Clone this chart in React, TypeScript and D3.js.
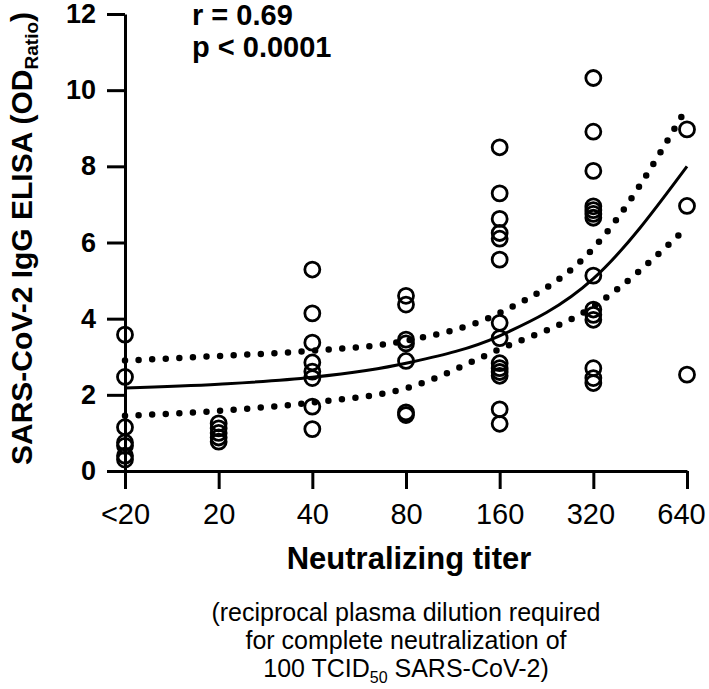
import React, { useEffect, useRef } from "react";
import * as d3 from "d3";

// titer groups on the x axis
const titers = ["<20", "20", "40", "80", "160", "320", "640"];

// ELISA OD ratio for each sample, per titer group
const odLt20 = [3.58, 2.47, 1.15, 0.75, 0.66, 0.4, 0.3];
const od20 = [1.25, 1.12, 1.0, 0.88, 0.77];
const od40 = [5.29, 4.14, 3.37, 2.85, 2.61, 2.44, 1.69, 1.1];
const od80 = [4.6, 4.37, 3.45, 3.35, 2.89, 1.54, 1.47];
const od160 = [8.5, 7.29, 6.62, 6.25, 6.1, 5.55, 3.89, 3.49, 2.83, 2.7, 2.6, 2.5, 1.62, 1.24];
const od320 = [10.32, 8.91, 7.88, 6.95, 6.85, 6.75, 6.65, 5.13, 4.24, 4.1, 3.97, 2.7, 2.44, 2.31];
const od640 = [8.97, 6.96, 2.53];

// regression line and 95% band, read at each titer
const fitLine = [2.18, 2.28, 2.46, 2.83, 3.55, 5.05, 8.0];
const bandUpper = [2.9, 3.02, 3.16, 3.42, 4.15, 5.85, 9.55];
const bandLower = [1.45, 1.58, 1.8, 2.17, 3.2, 4.32, 6.4];

const yTicks = [0, 2, 4, 6, 8, 10, 12];

const groups = [odLt20, od20, od40, od80, od160, od320, od640];

const App = () => {
  const svgRef = useRef<SVGSVGElement>(null);

  useEffect(() => {
    const svg = d3.select(svgRef.current);
    svg.selectAll("*").remove();

    const width = 709;
    const height = 689;
    const margin = { top: 14, right: 22, bottom: 218, left: 125 };
    const font = "'Liberation Sans', Arial, Helvetica, sans-serif";

    const x = d3
      .scalePoint()
      .domain(titers)
      .range([margin.left, width - margin.right]);

    const y = d3
      .scaleLinear()
      .domain([0, 12])
      .range([height - margin.bottom, margin.top]);

    // Eje Y
    const yAxisG = svg
      .append("g")
      .attr("transform", `translate(${margin.left},0)`)
      .call(d3.axisLeft(y).tickValues(yTicks).tickSize(18).tickSizeOuter(0).tickPadding(11));
    yAxisG.select("path").attr("stroke", "#000").attr("stroke-width", 3);
    yAxisG.selectAll("line").attr("stroke", "#000").attr("stroke-width", 3);
    yAxisG
      .selectAll("text")
      .style("fill", "#000")
      .style("font-family", font)
      .style("font-weight", "bold")
      .style("font-size", "27px");

    // Eje X
    const xAxisG = svg
      .append("g")
      .attr("transform", `translate(0,${y(0)})`)
      .call(d3.axisBottom(x).tickSize(18).tickSizeOuter(0).tickPadding(14));
    xAxisG.select("path").attr("stroke", "#000").attr("stroke-width", 3);
    xAxisG.selectAll("line").attr("stroke", "#000").attr("stroke-width", 3);
    xAxisG
      .selectAll("text")
      .style("fill", "#000")
      .style("font-family", font)
      .style("font-size", "29px")
      .attr("x", (d) => (d === "640" ? -6 : d === "320" ? -3 : 0));

    // Banda de confianza
    const xi = (i: number) => x(titers[i]) as number;
    const curve = d3
      .line<number>()
      .x((_, i) => xi(i))
      .y((d) => y(d))
      .curve(d3.curveMonotoneX);

    [bandUpper, bandLower].forEach((band) => {
      svg
        .append("path")
        .attr("d", curve(band))
        .attr("fill", "none")
        .attr("stroke", "#000")
        .attr("stroke-width", 6.5)
        .attr("stroke-linecap", "round")
        .attr("stroke-dasharray", "0 13.6");
    });

    svg
      .append("path")
      .attr("d", curve(fitLine))
      .attr("fill", "none")
      .attr("stroke", "#000")
      .attr("stroke-width", 3);

    // Puntos
    groups.forEach((vals, gi) => {
      svg
        .append("g")
        .selectAll("circle")
        .data(vals)
        .enter()
        .append("circle")
        .attr("cx", xi(gi))
        .attr("cy", (d) => y(d))
        .attr("r", 7.5)
        .attr("fill", "none")
        .attr("stroke", "#000")
        .attr("stroke-width", 2.8);
    });

    // r y p
    const stats = svg
      .append("text")
      .attr("font-family", font)
      .attr("font-weight", "bold")
      .attr("font-size", 29)
      .attr("fill", "#000");
    stats.append("tspan").attr("x", 192).attr("y", 25).text("r = 0.69");
    stats.append("tspan").attr("x", 192).attr("y", 57).text("p < 0.0001");

    // Título del eje Y
    const yTitle = svg
      .append("text")
      .attr("transform", `translate(32,${(y(0) + y(12)) / 2 - 4}) rotate(-90)`)
      .attr("text-anchor", "middle")
      .attr("font-family", font)
      .attr("font-weight", "bold")
      .attr("font-size", 30)
      .attr("fill", "#000");
    yTitle.append("tspan").text("SARS-CoV-2 IgG ELISA (OD");
    yTitle.append("tspan").attr("font-size", 19).attr("dy", 6).text("Ratio");
    yTitle.append("tspan").attr("dy", -6).text(")");

    // Título del eje X
    const cx = (margin.left + width - margin.right) / 2;
    svg
      .append("text")
      .attr("x", cx + 3)
      .attr("y", 569)
      .attr("text-anchor", "middle")
      .attr("font-family", font)
      .attr("font-weight", "bold")
      .attr("font-size", 31)
      .attr("fill", "#000")
      .text("Neutralizing titer");

    const sub = svg
      .append("text")
      .attr("text-anchor", "middle")
      .attr("font-family", font)
      .attr("font-size", 25)
      .attr("fill", "#000");
    sub.append("tspan").attr("x", cx).attr("y", 621).text("(reciprocal plasma dilution required");
    sub.append("tspan").attr("x", cx).attr("y", 649).text("for complete neutralization of");
    const last = svg
      .append("text")
      .attr("x", cx)
      .attr("y", 677)
      .attr("text-anchor", "middle")
      .attr("font-family", font)
      .attr("font-size", 25)
      .attr("fill", "#000");
    last.append("tspan").text("100 TCID");
    last.append("tspan").attr("font-size", 16).attr("dy", 6).text("50");
    last.append("tspan").attr("dy", -6).text(" SARS-CoV-2)");
  }, []);

  return (
    <div>
      <style>{`body{margin:0}`}</style>
      <svg ref={svgRef} width={709} height={689} style={{ display: "block", background: "#fff" }} />
    </div>
  );
};

export default App;
